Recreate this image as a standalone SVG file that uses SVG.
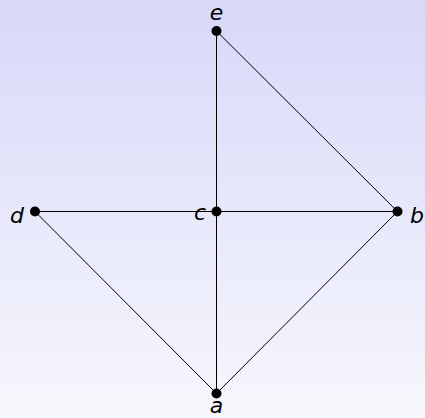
<svg xmlns="http://www.w3.org/2000/svg" width="425" height="418" viewBox="0 0 425 418">
<defs>
<linearGradient id="bg" x1="0" y1="0" x2="0" y2="1">
<stop offset="0" stop-color="#d7d8f8"/>
<stop offset="1" stop-color="#f7f7fd"/>
</linearGradient>
<style>
.edge{stroke:#000;stroke-width:1;fill:none}
.dot{fill:#000}
.lbl{font-family:"DejaVu Sans",sans-serif;font-style:oblique;font-size:22px;fill:#000}
</style>
</defs>
<rect width="425" height="418" fill="url(#bg)"/>
<g id="connectors">
<line class="edge" x1="216.5" y1="31" x2="216.5" y2="393.5"/>
<line class="edge" x1="35" y1="211.5" x2="397.5" y2="211.5"/>
<line class="edge" x1="216.5" y1="31" x2="397.5" y2="211.5"/>
<line class="edge" x1="35" y1="211.5" x2="216.5" y2="393.5"/>
<line class="edge" x1="397.5" y1="211.5" x2="216.5" y2="393.5"/>
</g>
<g id="node-e"><circle class="dot" cx="216.5" cy="31" r="5"/><text class="lbl" x="216.5" y="20" text-anchor="middle">e</text></g>
<g id="node-c"><circle class="dot" cx="216.5" cy="211.5" r="5"/><text class="lbl" x="206" y="220" text-anchor="end">c</text></g>
<g id="node-d"><circle class="dot" cx="35" cy="211.5" r="5"/><text class="lbl" x="24" y="223" text-anchor="end">d</text></g>
<g id="node-b"><circle class="dot" cx="397.5" cy="211.5" r="5"/><text class="lbl" x="410" y="223">b</text></g>
<g id="node-a"><circle class="dot" cx="216.5" cy="393.5" r="5"/><text class="lbl" x="216.5" y="413" text-anchor="middle">a</text></g>
</svg>
